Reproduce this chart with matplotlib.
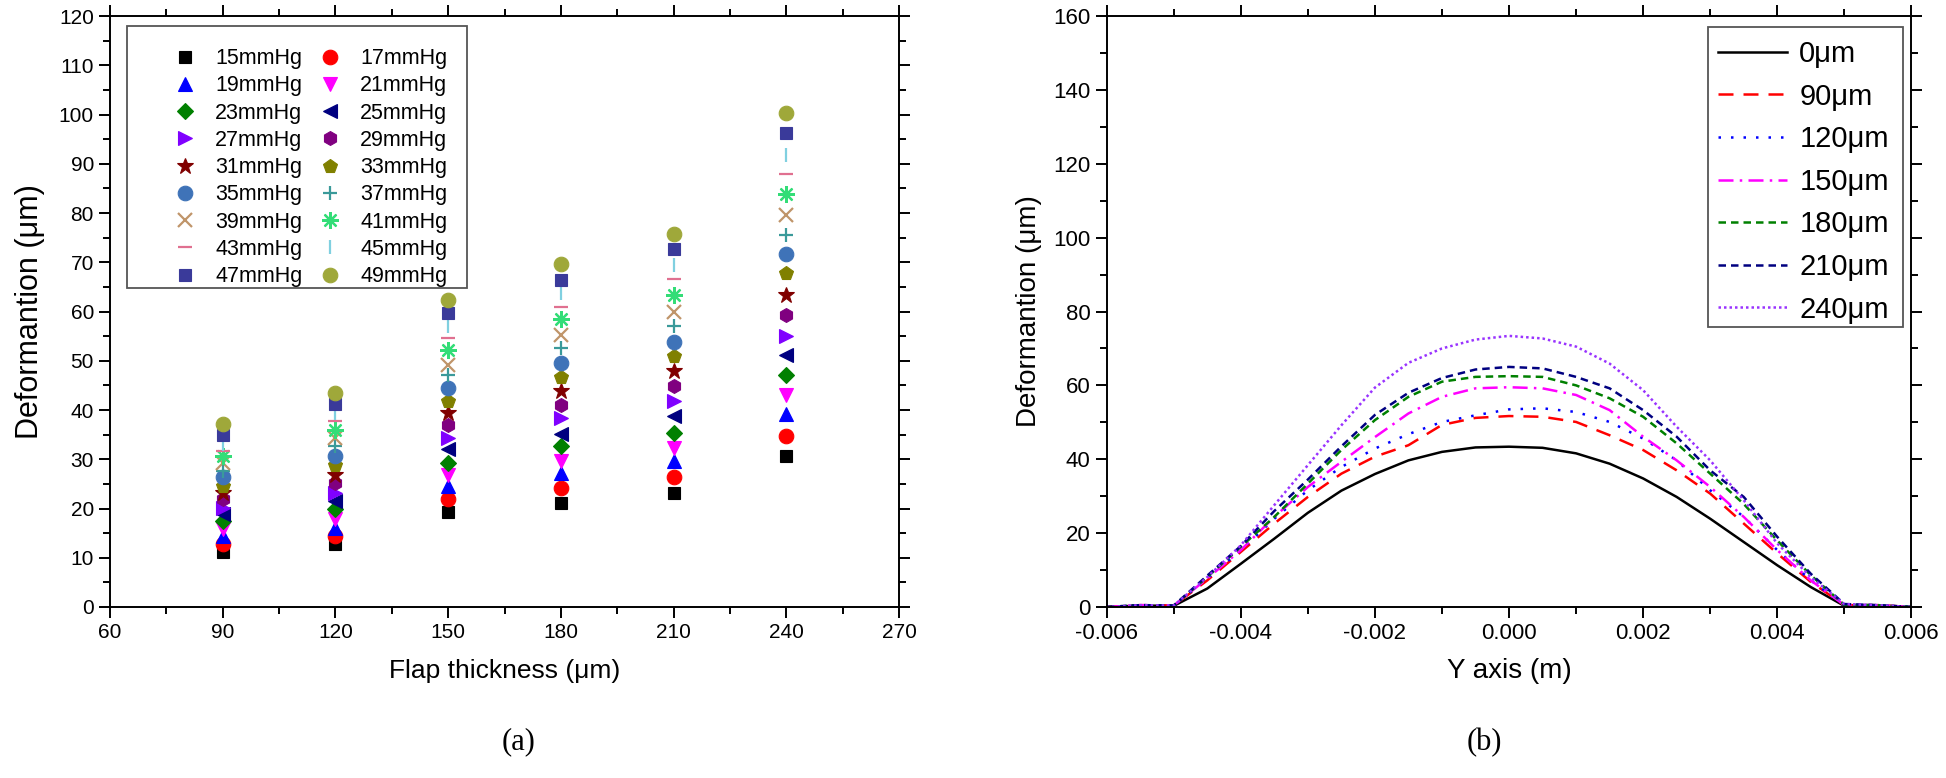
import numpy as np
import matplotlib
matplotlib.use("Agg")
import matplotlib.pyplot as plt
from matplotlib.ticker import MultipleLocator, FormatStrFormatter
from matplotlib.patches import Rectangle

plt.rcParams['font.family'] = ['Liberation Sans', 'DejaVu Sans']

# ---- panel (a): deformation vs flap thickness for each pressure ----
thickness = [90, 120, 150, 180, 210, 240]
pressures = [15, 17, 19, 21, 23, 25, 27, 29, 31, 33, 35, 37, 39, 41, 43, 45, 47, 49]

d90 = [11.1, 12.8, 14.4, 15.8, 17.5, 18.8, 20.2, 21.9, 23.2, 24.6, 26.3, 27.6, 29.3, 30.6, 31.6, 33.1, 35.0, 37.2]
d120 = [12.8, 14.4, 16.1, 17.8, 19.8, 21.5, 23.2, 25.2, 26.9, 28.9, 30.6, 32.7, 34.4, 36.0, 37.7, 39.4, 41.3, 43.5]
d150 = [19.2, 21.9, 24.6, 26.9, 29.3, 32.0, 34.4, 37.0, 39.4, 41.8, 44.5, 47.2, 49.2, 52.2, 54.6, 57.0, 59.7, 62.3]
d180 = [21.2, 24.2, 27.3, 29.6, 32.6, 35.2, 38.3, 41.1, 43.9, 46.8, 49.5, 52.6, 55.3, 58.4, 61.0, 63.7, 66.4, 69.6]
d210 = [23.2, 26.3, 29.6, 32.3, 35.4, 38.7, 41.8, 44.8, 48.0, 51.0, 53.9, 57.1, 60.0, 63.4, 66.6, 69.4, 72.6, 75.8]
d240 = [30.6, 34.7, 39.1, 43.1, 47.2, 51.2, 55.1, 59.3, 63.4, 67.8, 71.7, 75.5, 79.6, 83.9, 87.9, 91.7, 96.2, 100.3]

# marker, colour for each pressure
styles = [
    ('s', '#000000'), ('o', '#ff0000'), ('^', '#0000ff'), ('v', '#ff00ff'),
    ('D', '#008000'), ('<', '#000080'), ('>', '#8000ff'), ('h', '#800080'),
    ('*', '#800000'), ('p', '#808000'), ('o', '#3f73b8'), ('+', '#3a9a9a'),
    ('x', '#c0956a'), ((8, 2, 0), '#33dd77'), ('_', '#e07090'), ('|', '#80d0e0'),
    ('s', '#3a3a9a'), ('o', '#9fa83a'),
]
msizes = {'s': 9, 'o': 10.5, '^': 10, 'v': 10, 'D': 8.5, '<': 10, '>': 10,
          'h': 10, '*': 12, 'p': 10.5, '+': 10, 'x': 10, '_': 10, '|': 10}

# ---- panel (b): deformation profile along Y axis ----
y_axis = [-0.006, -0.0055, -0.005, -0.0045, -0.004, -0.0035, -0.003, -0.0025, -0.002,
          -0.0015, -0.001, -0.0005, 0.0, 0.0005, 0.001, 0.0015, 0.002, 0.0025, 0.003,
          0.0035, 0.004, 0.0045, 0.005, 0.0055, 0.006]
p0 = [0, 0.4, 0.3, 5.0, 11.7, 18.5, 25.5, 31.5, 36.0, 39.7, 42.0, 43.2, 43.4,
      43.1, 41.6, 38.8, 34.8, 29.8, 23.9, 17.6, 11.3, 5.4, 0.3, 0.4, 0]
p90 = [0, 0.5, 0.4, 7.2, 14.9, 22.6, 29.8, 36.1, 40.7, 43.8, 49.3, 51.2, 51.7,
       51.5, 50.1, 46.5, 42.5, 37.0, 30.7, 22.6, 14.5, 6.8, 0.5, 0.5, 0]
p120 = [0, 0.5, 0.4, 7.7, 15.4, 23.9, 31.6, 37.9, 42.9, 46.8, 50.1, 51.9, 53.5,
        53.8, 52.8, 50.1, 45.6, 39.7, 31.6, 24.4, 15.4, 7.2, 0.5, 0.5, 0]
p150 = [0, 0.5, 0.4, 7.7, 15.4, 24.4, 32.5, 39.3, 46.0, 52.4, 56.9, 59.2, 59.5,
        59.2, 57.4, 53.3, 46.1, 39.7, 32.5, 24.4, 15.4, 7.2, 0.5, 0.5, 0]
p180 = [0, 0.5, 0.4, 8.1, 16.3, 24.4, 33.4, 42.5, 50.6, 56.9, 61.0, 62.3, 62.5,
        62.3, 60.0, 56.5, 51.5, 44.3, 36.1, 27.9, 18.0, 8.6, 0.6, 0.5, 0]
p210 = [0, 0.5, 0.4, 8.5, 16.5, 26.0, 34.5, 43.5, 52.0, 58.0, 62.0, 64.3, 65.0,
        64.6, 62.3, 59.2, 53.3, 46.1, 37.0, 29.8, 19.0, 9.0, 0.8, 0.5, 0]
p240 = [0, 0.5, 0.4, 8.1, 16.7, 27.6, 38.4, 49.2, 59.4, 66.1, 70.0, 72.4, 73.4,
        72.7, 70.5, 65.9, 58.7, 48.8, 39.7, 28.9, 17.2, 8.1, 0.8, 0.5, 0]
profile_labels = ['0μm', '90μm', '120μm', '150μm', '180μm', '210μm', '240μm']
profile_colors = ['#000000', '#ff0000', '#0000ff', '#ff00ff', '#008000', '#000080', '#9933ff']
profile_dashes = ['-', (0, (6, 4)), (0, (1, 4)), (0, (6, 2.5, 1, 2.5)),
                  (0, (3, 2)), (0, (3, 2)), (0, (1, 1.2))]


def style_axes(ax, size):
    for s in ax.spines.values():
        s.set_linewidth(1.4)
    ax.tick_params(which='both', direction='out', top=True, right=True,
                   width=1.4, labelsize=size)
    ax.tick_params(which='major', length=8)
    ax.tick_params(which='minor', length=5)


def legend_box(ax, x0, y0, x1, y1):
    # plain grey frame drawn separately so the padding can differ per side
    ax.add_patch(Rectangle((x0, y0), x1 - x0, y1 - y0, transform=ax.transAxes,
                           fill=False, edgecolor='#555555', linewidth=1.3,
                           zorder=5, clip_on=False))


fig = plt.figure(figsize=(19.46, 7.78), dpi=100)

# left panel
ax1 = fig.add_axes([0.0565, 0.2198, 0.4055, 0.7596])
columns = np.array([d90, d120, d150, d180, d210, d240])
handles = []
for i, p in enumerate(pressures):
    m, c = styles[i]
    key = m if isinstance(m, str) else '*'
    mew = 1.6 if m in ('+', 'x', '_', '|') or not isinstance(m, str) else 0.8
    h, = ax1.plot(thickness, columns[:, i], linestyle='none', marker=m,
                  color=c, markersize=msizes.get(key, 10), markeredgewidth=mew,
                  label=f'{p}mmHg')
    handles.append(h)
ax1.set_xlim(60, 270)
ax1.set_ylim(0, 120)
ax1.xaxis.set_major_locator(MultipleLocator(30))
ax1.xaxis.set_minor_locator(MultipleLocator(15))
ax1.yaxis.set_major_locator(MultipleLocator(10))
ax1.yaxis.set_minor_locator(MultipleLocator(5))
style_axes(ax1, 15)
ax1.set_xlabel('Flap thickness (μm)', fontsize=19, labelpad=12)
ax1.set_ylabel('Deformantion (μm)', fontsize=22)
ax1.yaxis.set_label_coords(-0.082, 0.5)
order = handles[0::2] + handles[1::2]
ax1.legend(handles=order, ncol=2, loc='upper left',
           bbox_to_anchor=(0.0787, 0.9456), borderaxespad=0, borderpad=0,
           fontsize=15.5, frameon=False, handlelength=1.2, handletextpad=0.8,
           columnspacing=0.69, labelspacing=0.29)
legend_box(ax1, 0.0215, 0.5405, 0.4525, 0.983)

# right panel
ax2 = fig.add_axes([0.5687, 0.2198, 0.4135, 0.7596])
profiles = [p0, p90, p120, p150, p180, p210, p240]
for vals, lab, col, ls in zip(profiles, profile_labels, profile_colors, profile_dashes):
    ax2.plot(y_axis, vals, color=col, linestyle=ls, linewidth=1.8, label=lab)
ax2.set_xlim(-0.006, 0.006)
ax2.set_ylim(0, 160)
ax2.xaxis.set_major_locator(MultipleLocator(0.002))
ax2.xaxis.set_minor_locator(MultipleLocator(0.001))
ax2.yaxis.set_major_locator(MultipleLocator(20))
ax2.yaxis.set_minor_locator(MultipleLocator(10))
ax2.xaxis.set_major_formatter(FormatStrFormatter('%.3f'))
style_axes(ax2, 16)
ax2.set_xlabel('Y axis (m)', fontsize=20, labelpad=10)
ax2.set_ylabel('Deformantion (μm)', fontsize=20, labelpad=8)
ax2.legend(loc='upper left', bbox_to_anchor=(0.7597, 0.9593), borderaxespad=0,
           borderpad=0, fontsize=21, frameon=False, handlelength=2.35,
           handletextpad=0.44, labelspacing=0.5)
legend_box(ax2, 0.7472, 0.4743, 0.9896, 0.9807)

fig.text(0.2667, 0.046, '(a)', ha='center', va='center', fontsize=22,
         family=['Liberation Serif', 'DejaVu Serif'])
fig.text(0.763, 0.046, '(b)', ha='center', va='center', fontsize=22,
         family=['Liberation Serif', 'DejaVu Serif'])

fig.savefig('out.png', dpi=100)
